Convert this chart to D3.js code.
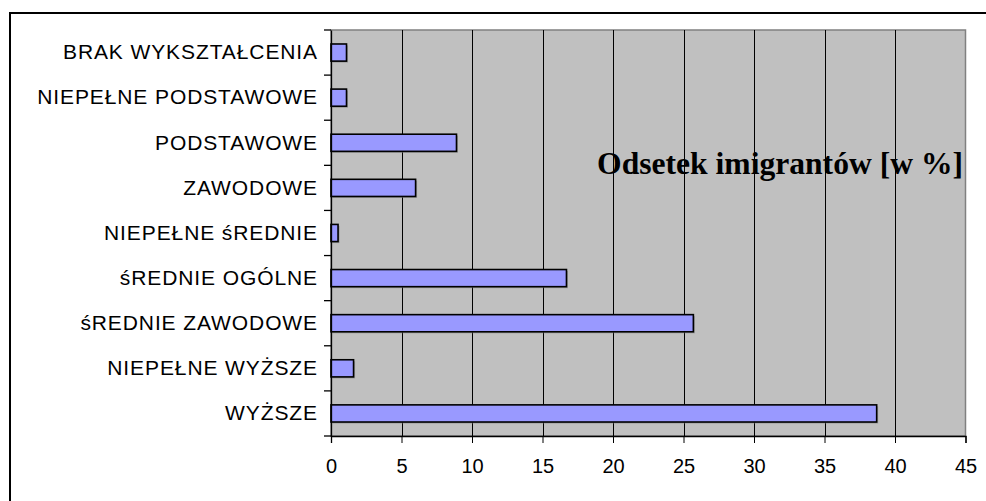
<!DOCTYPE html>
<html><head><meta charset="utf-8">
<script src="https://cdn.jsdelivr.net/npm/d3@7"></script>
<style>body{margin:0;background:#fff}svg{display:block}</style>
</head><body>
<script>
const categories = ["BRAK WYKSZTAŁCENIA","NIEPEŁNE PODSTAWOWE","PODSTAWOWE","ZAWODOWE","NIEPEŁNE śREDNIE","śREDNIE OGÓLNE","śREDNIE ZAWODOWE","NIEPEŁNE WYŻSZE","WYŻSZE"];
const values = [1.1, 1.1, 8.9, 6.0, 0.5, 16.7, 25.7, 1.6, 38.7];
const xTicks = [0,5,10,15,20,25,30,35,40,45];
const seriesLabel = "Odsetek imigrantów [w %]";

const W = 986, H = 501;
const svg = d3.select("body").append("svg").attr("width", W).attr("height", H);

// outer frame (partially visible)
svg.append("line").attr("x1",10).attr("x2",10).attr("y1",12).attr("y2",H).attr("stroke","#000").attr("stroke-width",2);
svg.append("line").attr("x1",9).attr("x2",W).attr("y1",13).attr("y2",13).attr("stroke","#000").attr("stroke-width",2);

const m = {left:331, right:965.5, top:30, bottom:436};
const x = d3.scaleLinear().domain([0,45]).range([m.left, m.right]);
const y = d3.scaleBand().domain(categories).range([m.top, m.bottom]).paddingInner(0.62).paddingOuter(0.31);
const yb = d3.scaleBand().domain(categories).range([m.top, m.bottom]);

// plot background
svg.append("rect").attr("x",m.left).attr("y",m.top).attr("width",m.right-m.left).attr("height",m.bottom-m.top)
  .attr("fill","#C0C0C0").attr("stroke","#808080").attr("stroke-width",1.5);

// gridlines
svg.append("g").selectAll("line").data(xTicks.slice(1,-1)).join("line")
  .attr("x1",d=>Math.round(x(d))+0.5).attr("x2",d=>Math.round(x(d))+0.5)
  .attr("y1",m.top).attr("y2",m.bottom).attr("stroke","#000").attr("stroke-width",1);

// series label
svg.append("text").attr("x",963).attr("y",174).attr("text-anchor","end")
  .attr("font-family","'Liberation Serif','Times New Roman',serif").attr("font-weight","bold")
  .attr("font-size",31.6).attr("fill","#000").text(seriesLabel);

// bar shadows
svg.append("g").selectAll("rect").data(values).join("rect")
  .attr("x",x(0)+1.5).attr("y",(d,i)=>y(categories[i])+1.5)
  .attr("width",d=>x(d)-x(0)).attr("height",y.bandwidth())
  .attr("fill","#808080").attr("opacity",0.6);
// bars
svg.append("g").selectAll("rect").data(values).join("rect")
  .attr("x",x(0)).attr("y",(d,i)=>y(categories[i]))
  .attr("width",d=>x(d)-x(0)).attr("height",y.bandwidth())
  .attr("fill","#9999FF").attr("stroke","#000").attr("stroke-width",1.6);

// x axis
const xAxis = svg.append("g").attr("transform",`translate(0,${m.bottom})`)
  .call(d3.axisBottom(x).tickValues(xTicks).tickSize(7).tickPadding(16));
xAxis.select(".domain").attr("stroke","#000").attr("stroke-width",1.3);
xAxis.selectAll("text").attr("font-family","'Liberation Sans',Arial,sans-serif").attr("font-size",20).attr("fill","#000");

// y axis
const yAxis = svg.append("g").attr("transform",`translate(${m.left},0)`)
  .call(d3.axisLeft(yb).tickSize(0).tickPadding(13));
yAxis.select(".domain").attr("stroke","#000").attr("stroke-width",1.3);
yAxis.selectAll("text").attr("font-family","'Liberation Sans',Arial,sans-serif").attr("font-size",21)
  .attr("letter-spacing","0.9").attr("fill","#000");
// category boundary ticks
const bounds = categories.map(c=>yb(c)).concat([m.bottom]);
svg.append("g").selectAll("line").data(bounds).join("line")
  .attr("x1",m.left-7).attr("x2",m.left).attr("y1",d=>d).attr("y2",d=>d)
  .attr("stroke","#000").attr("stroke-width",1.3);
</script>
</body></html>
